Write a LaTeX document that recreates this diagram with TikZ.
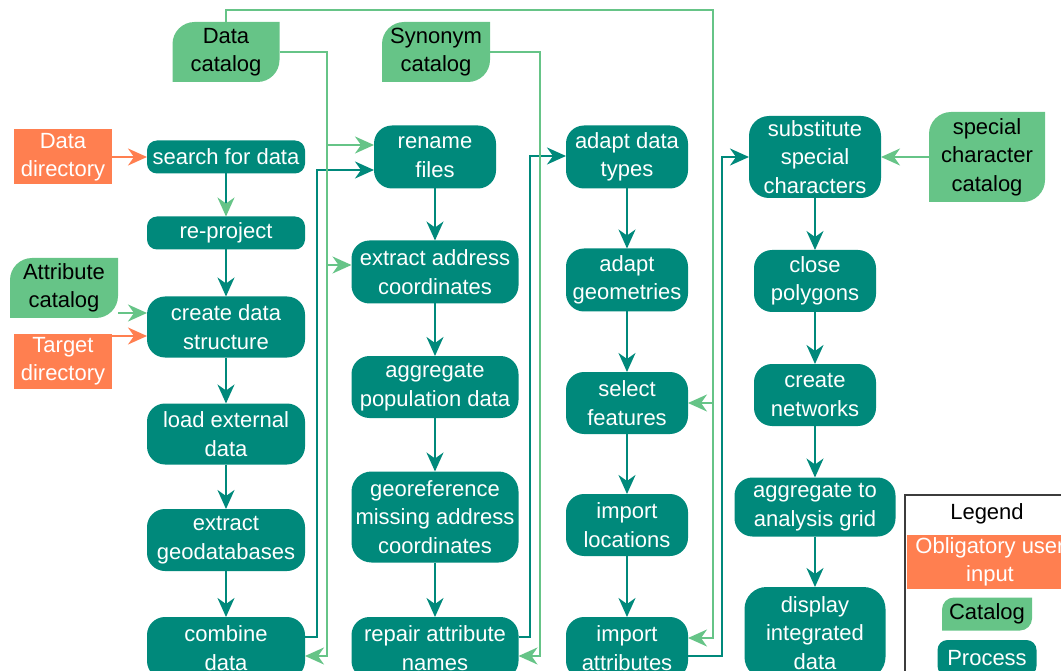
\documentclass[tikz,border=0pt]{standalone}
\usepackage{fontspec}
\setmainfont{Liberation Sans}
\usetikzlibrary{arrows.meta,calc}
\definecolor{tealc}{RGB}{0,137,123}
\definecolor{catg}{RGB}{102,196,135}
\definecolor{orng}{RGB}{255,127,80}
\definecolor{legframe}{RGB}{60,60,60}
\pgfdeclarelayer{bg}
\pgfsetlayers{bg,main}
\newcommand\catshape[2][22]{%
  \fill[catg] (#2.south west) -- ($(#2.north west)+(0,#1)$)
    .. controls ($(#2.north west)+(0,0.45*#1)$) and ($(#2.north west)+(0.45*#1,0)$) .. ($(#2.north west)+(#1,0)$)
    -- (#2.north east) -- ($(#2.south east)+(0,-#1)$)
    .. controls ($(#2.south east)+(0,-0.45*#1)$) and ($(#2.south east)+(-0.45*#1,0)$) .. ($(#2.south east)+(-#1,0)$)
    -- cycle;}
\tikzset{
  fnt/.style={font=\fontsize{22}{28.5}\selectfont},
  proc/.style={fnt, fill=tealc, text=white, align=center, inner sep=0pt, outer sep=0pt, rounded corners=18pt},
  proc1/.style={proc, rounded corners=10pt},
  cat/.style={fnt, text=black, align=center, inner sep=0pt, outer sep=0pt},
  usr/.style={fnt, fill=orng, text=white, align=center, inner sep=0pt, outer sep=0pt},
  tline/.style={draw=tealc, line width=1.9pt},
  gline/.style={draw=catg, line width=1.9pt},
  oline/.style={draw=orng, line width=1.9pt},
  arr/.style={-{Stealth[length=19pt,width=17pt,inset=6pt]}},
}
\begin{document}
\begin{tikzpicture}[x=1pt,y=-1pt]
\useasboundingbox (0,0) rectangle (1061,671);
\clip (0,0) rectangle (1061,671);

% column 1
\node[proc1, minimum width=158pt, minimum height=33pt] (search) at (226,157) {search for data};
\node[proc1, minimum width=158pt, minimum height=33pt] (reproj) at (226,233) {re-project};
\node[proc, minimum width=158pt, minimum height=61pt] (create) at (226,327) {create data\\structure};
\node[proc, minimum width=158pt, minimum height=61pt] (load) at (226,434) {load external\\data};
\node[proc, minimum width=158pt, minimum height=62pt] (extgdb) at (226,540) {extract\\geodatabases};
\node[proc, minimum width=158pt, minimum height=62pt] (combine) at (226,648) {combine\\data};

% column 2
\node[proc, minimum width=122pt, minimum height=63pt] (rename) at (435,157) {rename\\files};
\node[proc, minimum width=167pt, minimum height=63pt] (addr) at (435,272) {extract address\\coordinates};
\node[proc, minimum width=167pt, minimum height=62pt] (aggpop) at (435,387) {aggregate\\population data};
\node[proc, minimum width=167pt, minimum height=91pt, rounded corners=20pt] (georef) at (435,517) {georeference\\missing address\\coordinates};
\node[proc, minimum width=167pt, minimum height=62pt] (repair) at (435,648) {repair attribute\\names};

% column 3
\node[proc, minimum width=122pt, minimum height=63pt] (adtypes) at (627,157) {adapt data\\types};
\node[proc, minimum width=122pt, minimum height=63pt] (adgeom) at (627,280) {adapt\\geometries};
\node[proc, minimum width=122pt, minimum height=62pt] (select) at (627,403) {select\\features};
\node[proc, minimum width=122pt, minimum height=62pt] (imploc) at (627,525) {import\\locations};
\node[proc, minimum width=122pt, minimum height=62pt] (impatt) at (627,648) {import\\attributes};

% column 4
\node[proc, minimum width=132pt, minimum height=82pt, rounded corners=20pt] (subst) at (815,157) {substitute\\special\\characters};
\node[proc, minimum width=122pt, minimum height=62pt] (close) at (815,281) {close\\polygons};
\node[proc, minimum width=122pt, minimum height=62pt] (netw) at (815,395) {create\\networks};
\node[proc, minimum width=161pt, minimum height=59pt] (agggrid) at (815,507) {aggregate to\\analysis grid};
\node[proc, minimum width=141pt, minimum height=92pt, rounded corners=22pt] (display) at (815,633) {display\\integrated\\data};

% catalogs
\node[cat, minimum width=107pt, minimum height=60pt] (dcat) at (226,52) {Data\\catalog};
\node[cat, minimum width=108pt, minimum height=60pt] (syn) at (436,52) {Synonym\\catalog};
\node[cat, minimum width=108pt, minimum height=60pt] (acat) at (64,288) {Attribute\\catalog};
\node[cat, minimum width=116pt, minimum height=90pt] (spcat) at (987,157) {special\\character\\catalog};

% user input
\node[usr, minimum width=98pt, minimum height=55pt] (ddir) at (63,157) {Data\\directory};
\node[usr, minimum width=98pt, minimum height=55pt] (tdir) at (63,361) {Target\\directory};

% legend
\node[draw=legframe, line width=1.2pt, minimum width=172pt, minimum height=200pt, inner sep=0pt] (legbox) at (991,595) {};
\node[fnt, text=black] (legtitle) at (987,514) {Legend};
\node[usr, minimum width=166pt, minimum height=54pt] (legusr) at (990,562) {Obligatory user\\input};
\node[cat, minimum width=90pt, minimum height=33pt] (legcat) at (987,614) {Catalog};
\node[proc1, minimum width=99pt, minimum height=36pt] (legproc) at (987,658) {Process};

\begin{pgfonlayer}{bg}
\catshape{dcat}
\catshape{syn}
\catshape{acat}
\catshape{spcat}
\catshape[12]{legcat}
\end{pgfonlayer}

% bus x positions
\coordinate (b1) at (317,0);
\coordinate (g1) at (327,0);
\coordinate (b2) at (530,0);
\coordinate (g2) at (540,0);
\coordinate (g3) at (713,0);
\coordinate (b3) at (722,0);
\coordinate (topy) at (0,10);

% inputs column 1
\draw[oline, arr] (ddir) -- (search);
\draw[gline, arr] ($(acat.east)+(0,25)$) -- ($(create.west)+(0,-14)$);
\draw[oline, arr] ($(tdir.east)+(0,-25)$) -- ($(create.west)+(0,9)$);
\draw[gline, arr] (spcat) -- (subst);

% vertical flows
\draw[tline, -{Stealth[length=19pt,width=17pt,inset=6pt,color=catg]}] (search) -- (reproj);
\draw[tline, arr] (reproj) -- (create);
\draw[tline, arr] (create) -- (load);
\draw[tline, arr] (load) -- (extgdb);
\draw[tline, arr] (extgdb) -- (combine);
\draw[tline, arr] (rename) -- (addr);
\draw[tline, arr] (addr) -- (aggpop);
\draw[tline, arr] (aggpop) -- (georef);
\draw[tline, arr] (georef) -- (repair);
\draw[tline, arr] (adtypes) -- (adgeom);
\draw[tline, arr] (adgeom) -- (select);
\draw[tline, arr] (select) -- (imploc);
\draw[tline, arr] (imploc) -- (impatt);
\draw[tline, arr] (subst) -- (close);
\draw[tline, arr] (close) -- (netw);
\draw[tline, arr] (netw) -- (agggrid);
\draw[tline, arr] (agggrid) -- (display);

% teal feedback buses
\draw[tline, arr] ($(combine.east)+(0,-11)$) -| ($(b1|-rename.west)+(0,13)$) -- ($(rename.west)+(0,13)$);
\draw[tline, arr] ($(repair.east)+(0,-11)$) -| ($(b2|-adtypes.west)+(0,-1)$) -- ($(adtypes.west)+(0,-1)$);
\draw[tline, arr] ($(impatt.east)+(0,8)$) -| (b3|-subst.west) -- (subst.west);

% green catalog buses
\draw[gline, arr] (dcat.east) -| ($(g1|-combine.east)+(0,8)$) -- ($(combine.east)+(0,8)$);
\draw[gline, arr] ($(g1|-rename.west)+(0,-12)$) -- ($(rename.west)+(0,-12)$);
\draw[gline, arr] ($(g1|-addr.west)+(0,-7)$) -- ($(addr.west)+(0,-7)$);
\draw[gline, arr] (syn.east) -| ($(g2|-repair.east)+(0,8)$) -- ($(repair.east)+(0,8)$);
\draw[gline, arr] (dcat.north) |- (g3|-topy) -- ($(g3|-impatt.east)+(0,-10)$) -- ($(impatt.east)+(0,-10)$);
\draw[gline, arr] (g3|-select.east) -- (select.east);
\end{tikzpicture}
\end{document}
